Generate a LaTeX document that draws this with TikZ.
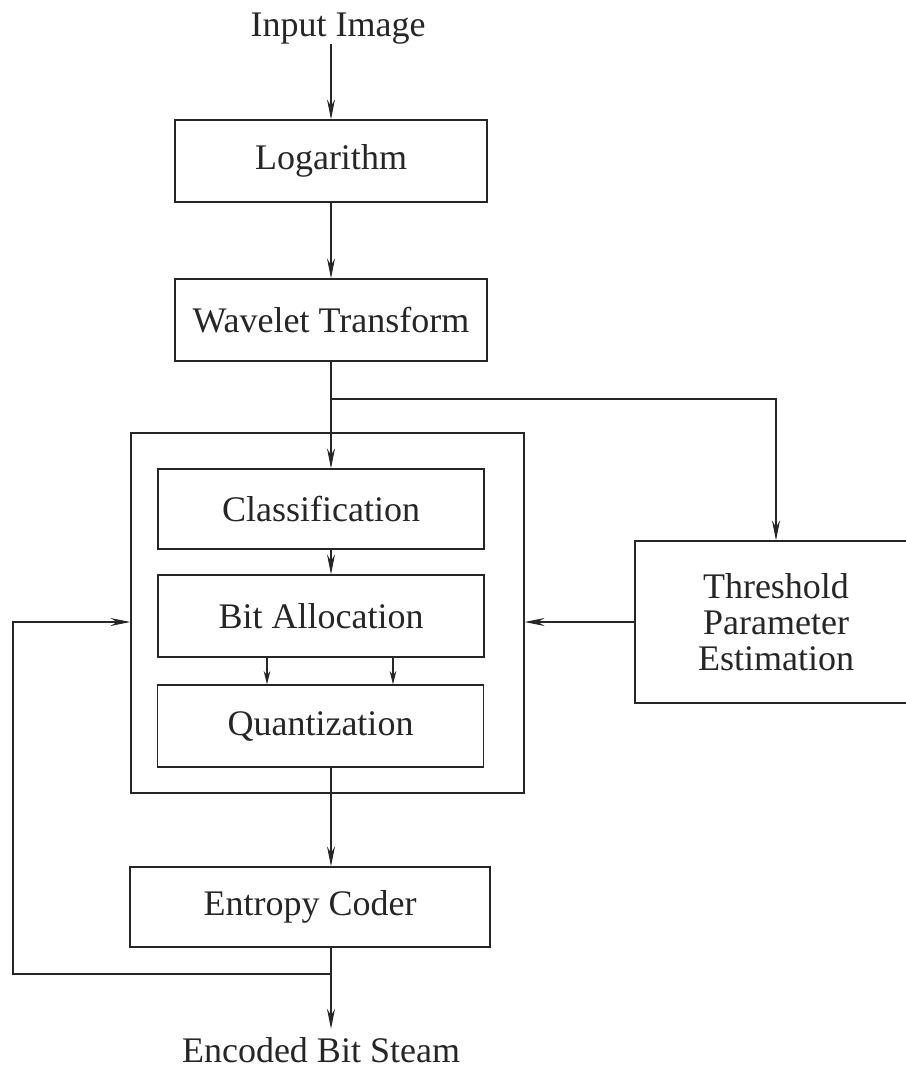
\documentclass[tikz,border=0pt]{standalone}
\usepackage{fontspec}
\setmainfont{Liberation Serif}
\usetikzlibrary{arrows.meta}
\newcommand\flowfont{\fontsize{27}{27}\selectfont}
\begin{document}
\begin{tikzpicture}[x=0.75pt,y=-0.75pt,
  ink/.style={draw=black!85, line width=0.9pt},
  blk/.style={ink, inner sep=0pt, align=center, font=\flowfont, text=black!85},
  lbl/.style={font=\flowfont, inner sep=0pt, text=black!85},
  arr/.style={ink, -{Stealth[length=15pt,width=6pt,inset=5pt]}},
  sarr/.style={ink, -{Stealth[length=10pt,width=5pt,inset=3pt]}}]
\clip (0,0) rectangle (906,1072);

% processing blocks
\node[blk, minimum width=234pt, minimum height=61.5pt] (log) at (331,161) {Logarithm};
\node[blk, minimum width=234pt, minimum height=61.5pt] (wav) at (331,320) {Wavelet Transform};
\node[ink, minimum width=294.75pt, minimum height=270pt, inner sep=0pt] (outer) at (327.5,613) {};
\node[blk, minimum width=244.5pt, minimum height=60pt] (cls) at (321,509) {Classification};
\node[blk, minimum width=244.5pt, minimum height=61.5pt] (bit) at (321,616) {Bit Allocation};
\node[blk, minimum width=244.5pt, minimum height=61.5pt] (qua) at (320.5,726) {Quantization};
\node[blk, minimum width=270pt, minimum height=60pt] (ent) at (310,907) {Entropy Coder};
\node[blk, minimum width=211.5pt, minimum height=121.5pt] (thr) at (776,622) {Threshold\\Parameter\\Estimation};

% input and output labels
\node[lbl, anchor=base] (in) at (338,36) {Input Image};
\node[lbl, anchor=base, inner sep=6pt] (out) at (321,1062) {Encoded Bit Steam};

% helper points
\coordinate (br) at (331,399);
\coordinate (fb) at (331,974);
\coordinate (fl) at (13,974);
\coordinate (a1) at (267,0);
\coordinate (a2) at (393,0);

% connectors
\draw[arr] (log |- in.south) -- (log);
\draw[arr] (log) -- (wav);
\draw[arr] (wav) -- (wav |- cls.north);
\draw[arr] (br) -| (thr);
\draw[arr] (wav |- cls.south) -- (wav |- bit.north);
\draw[sarr] (a1 |- bit.south) -- (a1 |- qua.north);
\draw[sarr] (a2 |- bit.south) -- (a2 |- qua.north);
\draw[arr] (wav |- qua.south) -- (wav |- ent.north);
\draw[arr] (wav |- ent.south) -- (wav |- out.north);
\draw[arr] (fb) -- (fl) |- (outer.west |- thr.west);
\draw[arr] (thr) -- (outer.east |- thr.west);
\end{tikzpicture}
\end{document}
